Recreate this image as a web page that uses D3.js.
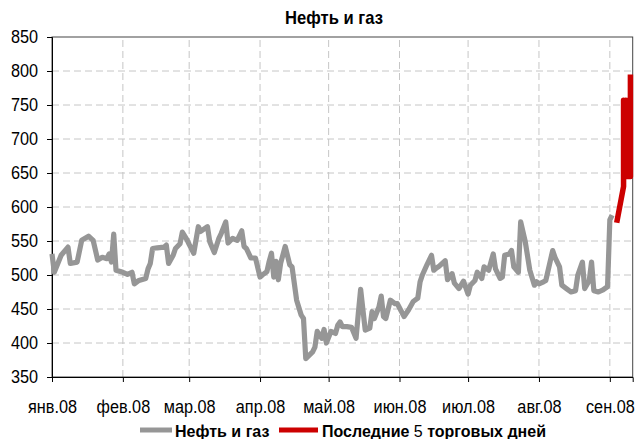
<!DOCTYPE html>
<html>
<head>
<meta charset="utf-8">
<script src="https://d3js.org/d3.v7.min.js"></script>
<style>
  body { margin: 0; background: #fff; }
  svg { font-family: "Liberation Sans", Arial, sans-serif; }
</style>
</head>
<body>
<div id="chart"></div>
<script>
// серия "Нефть и газ"
var grayDates = ["2008-01-01","2008-01-02","2008-01-05","2008-01-08","2008-01-09","2008-01-12","2008-01-14","2008-01-17","2008-01-19","2008-01-21",
  "2008-01-23","2008-01-25","2008-01-26","2008-01-27","2008-01-28","2008-01-29","2008-02-01","2008-02-03","2008-02-05","2008-02-06",
  "2008-02-08","2008-02-11","2008-02-12","2008-02-13","2008-02-14","2008-02-16","2008-02-19","2008-02-20","2008-02-21","2008-02-23",
  "2008-02-24","2008-02-26","2008-02-27","2008-02-29","2008-03-01","2008-03-03","2008-03-05","2008-03-06","2008-03-09","2008-03-10",
  "2008-03-12","2008-03-14","2008-03-15","2008-03-17","2008-03-18","2008-03-20","2008-03-22","2008-03-24","2008-03-25","2008-03-26",
  "2008-03-28","2008-03-30","2008-04-01","2008-04-02","2008-04-04","2008-04-05","2008-04-06","2008-04-07","2008-04-08","2008-04-09",
  "2008-04-10","2008-04-12","2008-04-14","2008-04-15","2008-04-17","2008-04-19","2008-04-20","2008-04-21","2008-04-24","2008-04-25",
  "2008-04-26","2008-04-28","2008-04-29","2008-04-30","2008-05-02","2008-05-04","2008-05-05","2008-05-06","2008-05-07","2008-05-09",
  "2008-05-11","2008-05-13","2008-05-14","2008-05-15","2008-05-16","2008-05-17","2008-05-19","2008-05-20","2008-05-21","2008-05-23",
  "2008-05-24","2008-05-25","2008-05-26","2008-05-28","2008-05-30","2008-05-31","2008-06-03","2008-06-05","2008-06-07","2008-06-09",
  "2008-06-10","2008-06-11","2008-06-13","2008-06-15","2008-06-16","2008-06-17","2008-06-18","2008-06-21","2008-06-22","2008-06-24",
  "2008-06-25","2008-06-27","2008-06-29","2008-07-01","2008-07-02","2008-07-04","2008-07-05","2008-07-07","2008-07-08","2008-07-10",
  "2008-07-11","2008-07-12","2008-07-13","2008-07-15","2008-07-16","2008-07-17","2008-07-19","2008-07-20","2008-07-21","2008-07-23",
  "2008-07-24","2008-07-26","2008-07-28","2008-07-30","2008-07-31","2008-08-01","2008-08-03","2008-08-04","2008-08-07","2008-08-08",
  "2008-08-10","2008-08-11","2008-08-13","2008-08-15","2008-08-17","2008-08-18","2008-08-20","2008-08-21","2008-08-23","2008-08-24",
  "2008-08-25","2008-08-27","2008-08-29","2008-08-31","2008-09-01","2008-09-02"];
var grayValues = [531,504,529,541,517,519,551,557,551,522,
  526,524,531,519,560,507,504,501,504,487,
  492,495,509,517,539,540,541,544,517,529,
  539,546,563,552,545,532,571,564,571,549,
  533,554,561,578,547,554,551,565,542,539,
  525,525,497,500,505,520,532,497,520,493,
  517,542,515,512,463,441,436,377,387,394,
  417,407,420,400,417,414,426,431,424,424,
  423,407,444,479,449,419,422,446,436,453,
  469,439,436,463,458,458,439,449,461,466,
  490,500,515,529,507,510,512,521,493,502,
  488,480,491,472,485,492,504,495,512,507,
  519,531,509,495,497,529,531,536,512,504,
  578,549,507,485,490,487,490,492,536,526,
  512,485,480,475,477,500,519,480,492,519,
  477,475,478,483,581,588];

// серия "Последние 5 торговых дней"
var redDates = ["2008-09-04","2008-09-07","2008-09-07","2008-09-08","2008-09-08","2008-09-09","2008-09-09","2008-09-10","2008-09-10"];
var redValues = [577,630,757,645,757,645,757,645,795];

var yTicks = [350,400,450,500,550,600,650,700,750,800,850];
var monthTicks = ["2008-01-01","2008-02-01","2008-03-01","2008-04-01","2008-05-01","2008-06-01","2008-07-01","2008-08-01","2008-09-01"];
var monthLabels = ["янв.08","фев.08","мар.08","апр.08","май.08","июн.08","июл.08","авг.08","сен.08"];

var width = 636, height = 439;
var margin = {left: 52, right: 3.3, top: 37, bottom: 62};
var parse = d3.timeParse("%Y-%m-%d");

var svg = d3.select("#chart").append("svg").attr("width", width).attr("height", height);

var x = d3.scaleTime()
    .domain([parse("2008-01-01"), parse("2008-09-11")])
    .range([margin.left, width - margin.right]);
var y = d3.scaleLinear().domain([350, 850]).range([height - margin.bottom, margin.top]);

// сетка
svg.append("g").selectAll("line").data(yTicks.slice(1, -1)).enter().append("line")
    .attr("x1", x.range()[0]).attr("x2", x.range()[1])
    .attr("y1", d => y(d)).attr("y2", d => y(d))
    .attr("stroke", "#c6c6c6").attr("stroke-dasharray", "7,4");
svg.append("g").selectAll("line").data(monthTicks.slice(1)).enter().append("line")
    .attr("x1", d => x(parse(d))).attr("x2", d => x(parse(d)))
    .attr("y1", y.range()[0]).attr("y2", y.range()[1])
    .attr("stroke", "#c6c6c6").attr("stroke-dasharray", "7,4");

// рамка
svg.append("rect")
    .attr("x", x.range()[0]).attr("y", y.range()[1])
    .attr("width", x.range()[1] - x.range()[0]).attr("height", y.range()[0] - y.range()[1])
    .attr("fill", "none").attr("stroke", "#444").attr("stroke-width", 1);

var yAxis = svg.append("g").attr("transform", "translate(" + margin.left + ",0)")
    .call(d3.axisLeft(y).tickValues(yTicks).tickSize(5).tickPadding(8).tickFormat(d3.format("d")));
var xAxis = svg.append("g").attr("transform", "translate(0," + (height - margin.bottom) + ")")
    .call(d3.axisBottom(x).tickValues(monthTicks.map(parse)).tickSize(5).tickPadding(19)
      .tickFormat((d, i) => monthLabels[i]));
[yAxis, xAxis].forEach(function(a) {
  a.select(".domain").attr("stroke", "#000");
  a.selectAll(".tick line").attr("stroke", "#000");
  a.selectAll("text").attr("fill", "#000").style("font-size", "17.5px")
    .style("font-family", "'Liberation Sans', Arial, sans-serif");
});
// чуть сжатые подписи, как в оригинале
xAxis.selectAll("text").attr("transform", "scale(0.93,1)");
yAxis.selectAll("text").attr("transform", "scale(0.93,1)").attr("x", -14 / 0.93);

var line = d3.line().x(d => x(d[0])).y(d => y(d[1]));
var grayData = grayDates.map((d, i) => [parse(d), grayValues[i]]);
var redData = redDates.map((d, i) => [parse(d), redValues[i]]);

svg.append("path").datum(grayData).attr("d", line)
    .attr("fill", "none").attr("stroke", "#969696").attr("stroke-width", 5.2)
    .attr("stroke-linejoin", "round");
svg.append("path").datum(redData).attr("d", line)
    .attr("fill", "none").attr("stroke", "#cc0000").attr("stroke-width", 5.5)
    .attr("stroke-linejoin", "round");

// заголовок
svg.append("text").attr("transform", "translate(334,24) scale(0.95,1)").attr("text-anchor", "middle")
    .style("font-size", "17.5px").style("font-weight", "bold").text("Нефть и газ");

// легенда
var leg = svg.append("g").style("font-size", "16px").style("font-weight", "bold");
leg.append("line").attr("x1", 140).attr("x2", 172).attr("y1", 430).attr("y2", 430)
    .attr("stroke", "#969696").attr("stroke-width", 5);
leg.append("text").attr("x", 175).attr("y", 437).text("Нефть и газ");
leg.append("line").attr("x1", 279).attr("x2", 318).attr("y1", 430).attr("y2", 430)
    .attr("stroke", "#cc0000").attr("stroke-width", 5);
var t = leg.append("text").attr("x", 322).attr("y", 437);
t.append("tspan").text("Последние ");
t.append("tspan").style("font-weight", "normal").text("5");
t.append("tspan").text(" торговых дней");
</script>
</body>
</html>
